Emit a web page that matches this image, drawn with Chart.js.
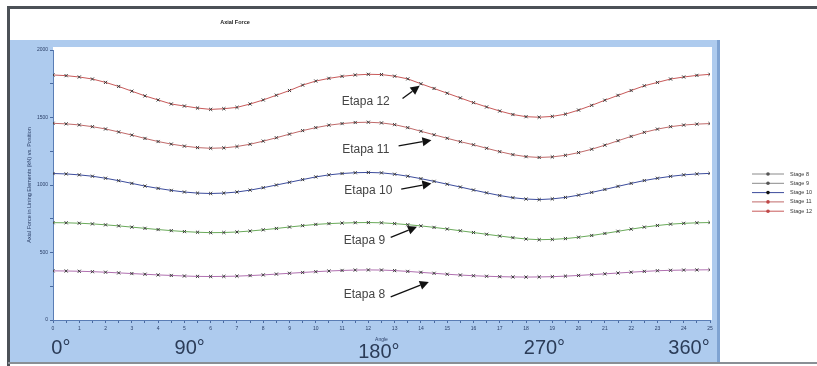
<!DOCTYPE html>
<html>
<head>
<meta charset="utf-8">
<script src="https://cdn.jsdelivr.net/npm/chart.js@4.4.1/dist/chart.umd.min.js"></script>
<style>
  html, body { margin: 0; padding: 0; background: #ffffff; }
  #wrap { width: 817px; height: 366px; position: relative; }
</style>
</head>
<body>
<div id="wrap"><canvas id="c" width="817" height="366"></canvas></div>
<script>
// Position along the ring (0 .. 25) and axial force per construction stage
const positions = [0,0.5,1,1.5,2,2.5,3,3.5,4,4.5,5,5.5,6,6.5,7,7.5,8,8.5,9,9.5,10,10.5,11,11.5,12,12.5,13,13.5,14,14.5,15,15.5,16,16.5,17,17.5,18,18.5,19,19.5,20,20.5,21,21.5,22,22.5,23,23.5,24,24.5,25];

const stage8  = [364,363,361,358,354,349,344,339,334,330,326,323,322,323,325,329,334,340,346,352,358,363,367,370,371,370,366,360,353,346,339,333,328,324,321,319,318,319,321,325,330,336,342,348,354,360,365,368,370,371,372];
const stage9  = [721,720,717,712,705,697,688,679,670,662,655,650,647,648,652,659,668,678,689,699,708,714,718,721,722,720,714,706,697,686,674,661,648,635,622,610,600,595,597,603,613,626,641,657,673,688,700,710,716,720,722];
const stage10 = [1085,1082,1075,1065,1050,1032,1012,992,975,960,948,940,937,940,948,962,980,1000,1020,1040,1060,1075,1085,1091,1093,1090,1080,1065,1047,1027,1006,985,963,942,922,906,896,892,897,908,925,945,967,990,1012,1033,1050,1064,1075,1082,1086];
const stage11 = [1457,1453,1445,1432,1415,1393,1370,1345,1322,1303,1288,1277,1272,1275,1285,1302,1325,1350,1377,1403,1425,1443,1455,1463,1465,1460,1447,1425,1398,1372,1346,1321,1298,1272,1247,1225,1210,1204,1208,1220,1240,1265,1295,1328,1360,1390,1414,1432,1444,1451,1455];
const stage12 = [1815,1810,1800,1785,1760,1730,1695,1660,1630,1600,1585,1570,1560,1565,1575,1600,1630,1665,1700,1740,1770,1790,1805,1815,1820,1818,1806,1786,1750,1715,1680,1645,1610,1578,1548,1522,1506,1502,1508,1525,1555,1590,1628,1664,1700,1735,1760,1785,1800,1812,1820];

const stageNames  = ['Stage 8','Stage 9','Stage 10','Stage 11','Stage 12'];
const stageSeries = [stage8, stage9, stage10, stage11, stage12];
const stageColors = ['#b070b0','#6aaa5a','#3c4c9c','#c06a6a','#c85a5a'];

// Callout labels: text, text anchor (x, value), arrow start, arrow tip
const calloutText = ['Etapa 12','Etapa 11','Etapa 10','Etapa 9','Etapa 8'];
const calloutAt   = [[11.9,1615],[11.9,1265],[12.0,955],[11.85,590],[11.85,190]];
const arrowFrom   = [[13.3,1640],[13.15,1290],[13.25,970],[12.85,612],[12.85,172]];
const arrowTo     = [[13.95,1735],[14.4,1332],[14.4,1012],[13.85,690],[14.3,282]];

// Angle markers under the axis
const angleText = ['0°','90°','180°','270°','360°'];
const angleAt   = [0.3, 5.2, 12.4, 18.7, 24.2];

const yTickMax = 2000;
const yStep = 250;

const datasets = stageSeries.map((vals, i) => ({
  label: stageNames[i],
  data: positions.map((x, j) => ({ x: x, y: vals[j] })),
  borderColor: stageColors[i],
  borderWidth: 1,
  pointStyle: 'crossRot',
  pointRadius: 2.2,
  pointBorderColor: '#3a3a3a',
  pointBorderWidth: 1,
  pointBackgroundColor: '#3a3a3a',
  tension: 0,
  fill: false
}));

const FONT = '"Liberation Sans", Arial, sans-serif';

const framePlugin = {
  id: 'frame',
  beforeDraw(chart) {
    const ctx = chart.ctx;
    const a = chart.chartArea;
    ctx.save();
    ctx.fillStyle = '#ffffff';
    ctx.fillRect(0, 0, chart.width, chart.height);
    // blue panel around the plot
    ctx.fillStyle = '#aecbee';
    ctx.fillRect(10, 40, 710, 323);
    ctx.fillStyle = '#7fa3d2';
    ctx.fillRect(717, 40, 3, 323);
    // white plotting area
    ctx.fillStyle = '#ffffff';
    ctx.fillRect(a.left, 47, 712 - a.left, a.bottom - 47);
    // outer window frame
    ctx.fillStyle = '#4c5157';
    ctx.fillRect(8, 6, 809, 3);
    ctx.fillRect(7, 6, 3, 360);
    ctx.fillStyle = '#8a8f95';
    ctx.fillRect(8, 362, 809, 2);
    ctx.restore();
  },
  afterDraw(chart) {
    const ctx = chart.ctx;
    const xs = chart.scales.x, ys = chart.scales.y;
    ctx.save();
    // chart title
    ctx.fillStyle = '#222';
    ctx.font = 'bold 5.5px ' + FONT;
    ctx.textAlign = 'center';
    ctx.textBaseline = 'middle';
    ctx.fillText('Axial Force', 235, 22);

    // axis titles
    ctx.font = '5px ' + FONT;
    ctx.fillStyle = '#2a3e66';
    ctx.fillText('Angle', xs.getPixelForValue(12.5), 340);
    ctx.save();
    ctx.translate(29, 185);
    ctx.rotate(-Math.PI / 2);
    ctx.font = '5.5px ' + FONT;
    ctx.fillText('Axial Force in Lining Elements (kN) vs. Position', 0, 0);
    ctx.restore();

    // callouts with arrows
    ctx.font = '12px ' + FONT;
    ctx.fillStyle = '#444';
    ctx.textAlign = 'center';
    calloutText.forEach((t, i) => {
      ctx.fillStyle = '#444';
      ctx.fillText(t, xs.getPixelForValue(calloutAt[i][0]), ys.getPixelForValue(calloutAt[i][1]));
      const x0 = xs.getPixelForValue(arrowFrom[i][0]), y0 = ys.getPixelForValue(arrowFrom[i][1]);
      const x1 = xs.getPixelForValue(arrowTo[i][0]),   y1 = ys.getPixelForValue(arrowTo[i][1]);
      const ang = Math.atan2(y1 - y0, x1 - x0);
      const hl = 9, hw = 4.5;
      const bx = x1 - hl * Math.cos(ang), by = y1 - hl * Math.sin(ang);
      ctx.strokeStyle = '#111';
      ctx.lineWidth = 1.3;
      ctx.beginPath(); ctx.moveTo(x0, y0); ctx.lineTo(bx, by); ctx.stroke();
      ctx.fillStyle = '#111';
      ctx.beginPath();
      ctx.moveTo(x1, y1);
      ctx.lineTo(bx + hw * Math.sin(ang), by - hw * Math.cos(ang));
      ctx.lineTo(bx - hw * Math.sin(ang), by + hw * Math.cos(ang));
      ctx.closePath(); ctx.fill();
    });

    // angle markers
    ctx.font = '20px ' + FONT;
    ctx.fillStyle = '#2b3c58';
    angleText.forEach((t, i) => {
      ctx.fillText(t, xs.getPixelForValue(angleAt[i]), i === 2 ? 352 : 348);
    });

    // legend
    ctx.textAlign = 'left';
    ctx.font = '5.5px ' + FONT;
    stageNames.forEach((n, i) => {
      const y = 174 + i * 9.3;
      ctx.strokeStyle = i < 2 ? '#8a8a8a' : stageColors[i];
      ctx.lineWidth = 1;
      ctx.beginPath(); ctx.moveTo(752, y); ctx.lineTo(784, y); ctx.stroke();
      ctx.fillStyle = i === 2 ? '#111' : (i >= 3 ? '#c04848' : '#555');
      ctx.beginPath(); ctx.arc(768, y, 1.8, 0, Math.PI * 2); ctx.fill();
      ctx.fillStyle = '#333';
      ctx.fillText(n, 790, y);
    });
    ctx.restore();
  }
};

new Chart(document.getElementById('c'), {
  type: 'line',
  data: { datasets: datasets },
  options: {
    responsive: false,
    animation: false,
    events: [],
    layout: { padding: { left: 0, top: 50, right: 107, bottom: 0 } },
    plugins: { legend: { display: false }, title: { display: false }, tooltip: { enabled: false } },
    scales: {
      x: {
        type: 'linear', min: 0, max: 25,
        afterFit(s) { s.height = 46; },
        border: { color: '#5a7db5', width: 1 },
        grid: { drawOnChartArea: false, tickLength: 3, color: '#4a6aa0' },
        ticks: {
          stepSize: 0.5, autoSkip: false, maxRotation: 0,
          color: '#2a3e66', font: { size: 5, family: FONT }, padding: 3,
          callback: v => Number.isInteger(v) ? String(v) : ''
        }
      },
      y: {
        type: 'linear', min: 0, max: yTickMax,
        afterFit(s) { s.width = 53; },
        border: { color: '#5a7db5', width: 1 },
        grid: { drawOnChartArea: false, tickLength: 3, color: '#4a6aa0' },
        ticks: {
          stepSize: yStep, autoSkip: false,
          color: '#2a3e66', font: { size: 5, family: FONT }, padding: 2,
          callback: v => v % 500 === 0 ? String(v) : ''
        }
      }
    }
  },
  plugins: [framePlugin]
});
</script>
</body>
</html>
